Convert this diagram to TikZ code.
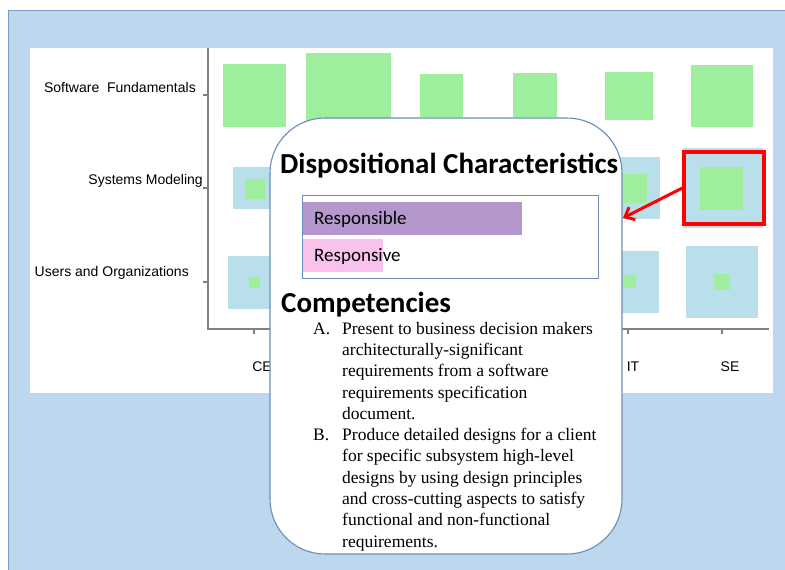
\documentclass[tikz,border=0pt]{standalone}
\usepackage{fontspec}
\setmainfont{Liberation Serif}
\newfontfamily\calibrifont{Carlito}
\newfontfamily\arialfont{Liberation Sans}
\usetikzlibrary{arrows.meta}
\definecolor{panelblue}{HTML}{BDD7EE}
\definecolor{panelline}{HTML}{7A9CC6}
\definecolor{sqgreen}{HTML}{9EEE9E}
\definecolor{sqblue}{HTML}{B9E0EA}
\definecolor{bubbleline}{HTML}{6A8EBA}
\definecolor{purplebar}{HTML}{B497CD}
\definecolor{pinkbar}{HTML}{F9C2EC}
\definecolor{axisgray}{HTML}{7F7F7F}
\newcommand\chartsq[4]{\fill[#1] (#2-#4/2,#3-#4/2) rectangle (#2+#4/2,#3+#4/2);}
\tikzset{
  axislabel/.style={anchor=east, inner sep=0, font=\arialfont\fontsize{14}{16}\selectfont},
  collabel/.style={inner sep=0, font=\arialfont\fontsize{14}{16}\selectfont},
  axisline/.style={draw=axisgray, line width=1.3},
  heading/.style={anchor=base west, inner sep=0, font=\calibrifont\bfseries\fontsize{29}{32}\selectfont},
  barlabel/.style={anchor=west, inner sep=0, font=\calibrifont\fontsize{19}{22}\selectfont},
}
\begin{document}
\begin{tikzpicture}[x=1pt,y=-1pt]
\useasboundingbox (0,0) rectangle (785,570);
% panel
\fill[panelblue] (8,10) rectangle (785,570);
\draw[panelline, line width=1] (785,10) -- (8,10) -- (8,570);
\fill[white] (30,48) rectangle (773,393);
% axes
\draw[axisline] (208,48) -- (208,329) -- (769,329);
\foreach \yy in {95,188,282} \draw[axisline] (203,\yy) -- (208,\yy);
\foreach \xx in {254,628,722} \draw[axisline] (\xx,329) -- (\xx,334);
% row labels
\node[axislabel] (sf) at (196,87) {Software\ \ Fundamentals};
\node[axislabel] (sm) at (203,181) {Systems Modeling};
\node[axislabel] (uo) at (189,273) {Users and Organizations};
\node[collabel] (ce) at (262,367) {CE};
\node[collabel] (it) at (633,367) {IT};
\node[collabel] (se) at (730,367) {SE};
% row 1 squares
\chartsq{sqgreen}{254.5}{95.5}{63}
\chartsq{sqgreen}{348.5}{95.5}{85}
\chartsq{sqgreen}{441.5}{95}{43}
\chartsq{sqgreen}{535}{95}{44}
\chartsq{sqgreen}{628.5}{95.5}{48}
\chartsq{sqgreen}{722}{95.5}{62}
% row 2
\chartsq{sqblue}{254}{188}{42}
\chartsq{sqgreen}{254.5}{189}{20}
\chartsq{sqblue}{629}{188}{62}
\chartsq{sqgreen}{632.5}{188.5}{29}
\chartsq{sqblue}{723}{188}{80}
\chartsq{sqgreen}{721.5}{188}{43}
% row 3
\chartsq{sqblue}{254.5}{282.5}{53}
\chartsq{sqgreen}{254.5}{282}{11}
\chartsq{sqblue}{628}{282}{62}
\chartsq{sqgreen}{629.5}{281.5}{13}
\chartsq{sqblue}{722}{282}{72}
\chartsq{sqgreen}{722}{282}{16}
% red box
\node[draw=red, line width=3.2, minimum width=80, minimum height=72, inner sep=0] (redbox) at (724,188) {};
% bubble
\node[draw=bubbleline, fill=white, line width=1.1, rounded corners=55, minimum width=352, minimum height=436, inner sep=0] (bubble) at (446,336) {};
\node[heading] (disp) at (280,173) {Dispositional Characteristics};
\node[draw=bubbleline, line width=1, minimum width=296, minimum height=83, inner sep=0] (inner) at (450,236.5) {};
\fill[purplebar] (302.5,202) rectangle (522,235);
\fill[pinkbar] (302.5,239) rectangle (383,272);
\node[barlabel] (resp1) at (314,219) {Responsible};
\node[barlabel] (resp2) at (314,256) {Responsive};
\node[heading] (comp) at (281,312) {Competencies};
\node[anchor=north west, inner sep=0, font=\fontsize{17.5}{21.3}\selectfont] (list) at (313,319) {%
\begin{tabular}{@{}p{29pt}@{}l@{}}
A. & Present to business decision makers\\
   & architecturally-significant\\
   & requirements from a software\\
   & requirements specification\\
   & document.\\
B. & Produce detailed designs for a client\\
   & for specific subsystem high-level\\
   & designs by using design principles\\
   & and cross-cutting aspects to satisfy\\
   & functional and non-functional\\
   & requirements.
\end{tabular}};
% arrow
\coordinate (tip) at (623,218);
\draw[red, line width=3, -{Straight Barb[length=8pt,width=14pt]}] (redbox.west) -- (tip);
\end{tikzpicture}
\end{document}
